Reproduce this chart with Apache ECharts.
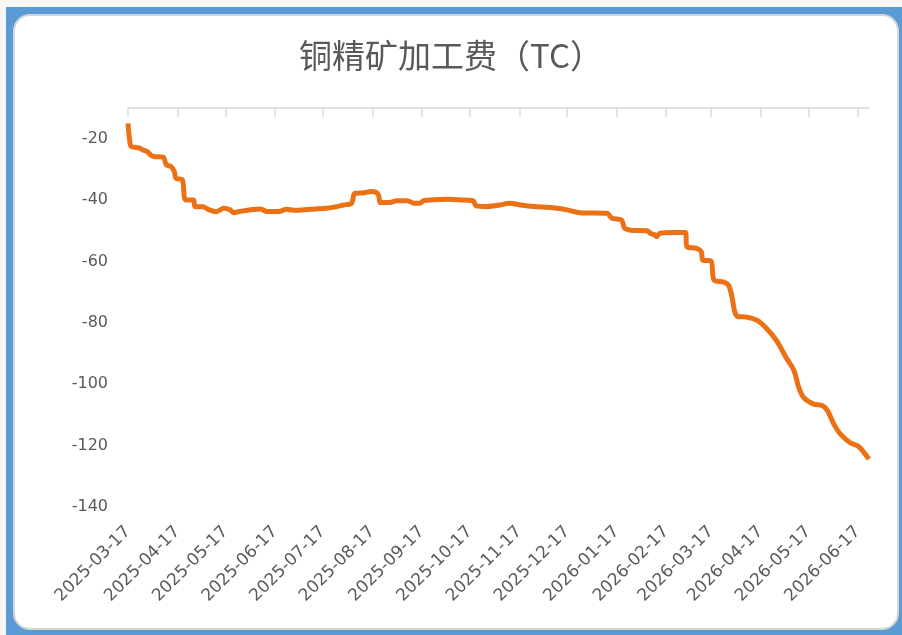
<!DOCTYPE html>
<html>
<head>
    <meta charset="utf-8">
    <title>铜精矿加工费（TC）</title>
    <script src="https://cdn.jsdelivr.net/npm/echarts@6/dist/echarts.min.js"></script>
    <style>
        html, body { margin: 0; padding: 0; background: #f7f7f7; }
        #main { width: 902px; height: 635px; }
    </style>
</head>
<body>
<div id="main"></div>
<script type="text/javascript">
    // 日期轴：2025-03-17 起，每日一个类目
    var startDay = '2025-03-17';
    var endDay = '2026-06-24';

    // 读图得到的 TC 值（美元/吨），只在变化点取值
    var tcDates = [
        '2025-03-17', '2025-03-18', '2025-03-19', '2025-03-24', '2025-03-26', '2025-03-29', '2025-03-31',
        '2025-04-02', '2025-04-08', '2025-04-10', '2025-04-13', '2025-04-15', '2025-04-16', '2025-04-20',
        '2025-04-22', '2025-04-27', '2025-04-28', '2025-05-03', '2025-05-07', '2025-05-11', '2025-05-16',
        '2025-05-20', '2025-05-22', '2025-05-27', '2025-06-01', '2025-06-08', '2025-06-12', '2025-06-20',
        '2025-06-24', '2025-06-29', '2025-07-09', '2025-07-19', '2025-07-24', '2025-07-30', '2025-08-04',
        '2025-08-06', '2025-08-12', '2025-08-16', '2025-08-19', '2025-08-21', '2025-08-22', '2025-08-28',
        '2025-09-01', '2025-09-08', '2025-09-12', '2025-09-16', '2025-09-18', '2025-09-24', '2025-10-03',
        '2025-10-09', '2025-10-19', '2025-10-21', '2025-10-28', '2025-11-05', '2025-11-11', '2025-11-18',
        '2025-11-26', '2025-12-08', '2025-12-17', '2025-12-25', '2026-01-11', '2026-01-14', '2026-01-20',
        '2026-01-22', '2026-01-26', '2026-02-05', '2026-02-07', '2026-02-10', '2026-02-11', '2026-02-13',
        '2026-02-22', '2026-03-01', '2026-03-02', '2026-03-08', '2026-03-11', '2026-03-12', '2026-03-17',
        '2026-03-19', '2026-03-25', '2026-03-28', '2026-03-30', '2026-04-01', '2026-04-03', '2026-04-08',
        '2026-04-15', '2026-04-21', '2026-04-27', '2026-05-03', '2026-05-08', '2026-05-11', '2026-05-14',
        '2026-05-20', '2026-05-26', '2026-05-29', '2026-06-02', '2026-06-06', '2026-06-12', '2026-06-17',
        '2026-06-20', '2026-06-24'
    ];
    var tcValues = [
        -15.0, -20.3, -22.5, -23.0, -23.6, -24.2, -25.2,
        -25.8, -26.0, -28.5, -29.1, -30.7, -32.9, -33.4,
        -39.9, -40.0, -42.1, -42.2, -43.2, -43.8, -42.7,
        -43.2, -44.1, -43.6, -43.2, -42.9, -43.7, -43.7,
        -43.0, -43.3, -43.0, -42.7, -42.3, -41.6, -41.0,
        -37.8, -37.6, -37.2, -37.4, -38.5, -40.8, -40.8,
        -40.2, -40.2, -41.0, -41.0, -40.2, -39.9, -39.7,
        -39.9, -40.2, -41.9, -42.1, -41.6, -41.0, -41.6,
        -42.1, -42.5, -43.2, -44.1, -44.3, -45.9, -46.5,
        -49.2, -49.8, -50.0, -50.8, -51.4, -51.9, -50.8,
        -50.6, -50.6, -55.2, -55.7, -56.8, -59.6, -59.8,
        -66.1, -66.7, -67.7, -71.0, -76.5, -78.0, -78.1,
        -79.2, -81.9, -85.7, -91.2, -95.5, -101.0, -104.3,
        -106.4, -107.0, -108.6, -113.0, -116.2, -119.0, -120.1,
        -121.7, -124.4
    ];

    var yMin = -140, yMax = -10, yStep = 20;

    function buildDays(from, to) {
        var out = [];
        var t = Date.parse(from + 'T00:00:00Z');
        var end = Date.parse(to + 'T00:00:00Z');
        for (; t <= end; t += 86400000) {
            out.push(new Date(t).toISOString().slice(0, 10));
        }
        return out;
    }
    var days = buildDays(startDay, endDay);

    var seriesData = tcDates.map(function (d, i) { return [d, tcValues[i]]; });

    // 每月 17 日打刻度和标签
    function isTickDay(index, value) {
        return value.slice(8, 10) === '17';
    }

    var myChart = echarts.init(document.getElementById('main'));
    var textColor = '#595959';

    var option = {
        backgroundColor: '#f7f7f7',
        animation: false,
        graphic: [
            {
                type: 'rect', z: -10, silent: true,
                shape: { x: 6, y: 7, width: 896, height: 628 },
                style: { fill: '#5b9bd5' }
            },
            {
                type: 'rect', z: -9, silent: true,
                shape: { x: 14, y: 15, width: 884, height: 614, r: 16 },
                style: { fill: '#ffffff', stroke: '#d6d6d6', lineWidth: 2 }
            }
        ],
        title: {
            text: '铜精矿加工费（TC）',
            left: 'center',
            top: 34,
            textStyle: {
                fontFamily: 'Noto Sans CJK SC',
                fontSize: 33,
                fontWeight: 'normal',
                color: textColor
            }
        },
        grid: { left: 128, right: 33, top: 108, bottom: 128 },
        xAxis: [
            {
                type: 'category',
                position: 'top',
                data: days,
                boundaryGap: false,
                axisLine: { show: true, lineStyle: { color: '#d9d9d9', width: 1.5 } },
                axisTick: { show: true, inside: true, length: 9, interval: isTickDay, lineStyle: { color: '#d9d9d9', width: 1.5 } },
                axisLabel: { show: false },
                splitLine: { show: false }
            },
            {
                type: 'category',
                position: 'bottom',
                data: days,
                boundaryGap: false,
                axisLine: { show: false },
                axisTick: { show: false },
                axisLabel: {
                    interval: isTickDay,
                    rotate: 45,
                    margin: 22,
                    color: textColor,
                    fontFamily: 'DejaVu Sans',
                    fontSize: 17
                },
                splitLine: { show: false }
            }
        ],
        yAxis: {
            type: 'value',
            min: yMin,
            max: yMax,
            interval: yStep,
            axisLine: { show: false },
            axisTick: { show: false },
            splitLine: { show: false },
            axisLabel: {
                showMaxLabel: false,
                margin: 20,
                color: textColor,
                fontFamily: 'DejaVu Sans',
                fontSize: 16
            }
        },
        series: [{
            type: 'line',
            xAxisIndex: 0,
            data: seriesData,
            showSymbol: false,
            smooth: 0.3,
            lineStyle: { color: '#ec7014', width: 5 },
            itemStyle: { color: '#ec7014' }
        }]
    };
    myChart.setOption(option);
</script>
</body>
</html>
